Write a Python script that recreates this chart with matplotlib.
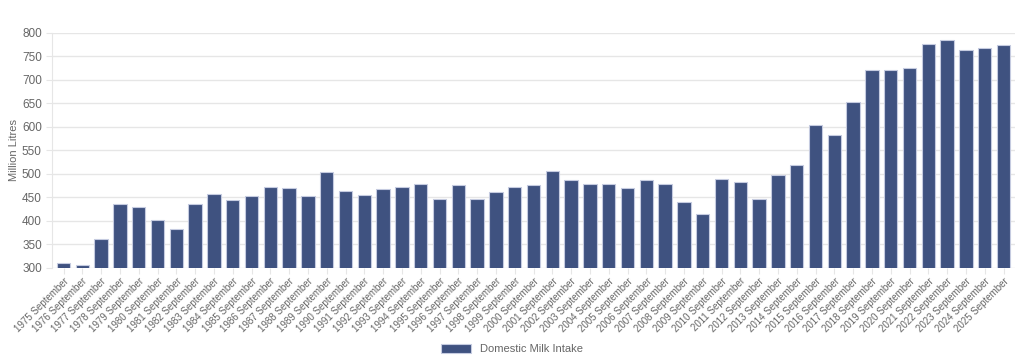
import numpy as np
import matplotlib.pyplot as plt

years = list(range(1975, 2026))
labels = ['%d September' % y for y in years]
intake = [310, 306, 361, 435, 430, 402, 383, 436, 456, 445,
          452, 472, 469, 453, 503, 464, 455, 468, 473, 478,
          446, 476, 447, 461, 472, 476, 506, 486, 478, 479,
          469, 487, 478, 439, 415, 490, 483, 446, 498, 518,
          603, 583, 653, 721, 721, 725, 776, 785, 763, 767,
          774]

plt.rcParams['font.family'] = ['Liberation Sans', 'DejaVu Sans']

fig = plt.figure(figsize=(10.24, 3.6), dpi=100)
ax = fig.add_axes([0.051, 0.256, 0.94, 0.653])

x = np.arange(len(years))
ax.bar(x, intake, width=0.72, color='#3f5280', edgecolor='#c5cbe0',
       linewidth=0.8, label='Domestic Milk Intake', zorder=3)

ax.set_ylim(300, 800)
ax.set_xlim(-0.6, len(years) - 0.4)
ax.set_yticks(range(300, 801, 50))
ax.yaxis.grid(True, color='#e6e6e6', linewidth=1, zorder=0)
ax.set_xticks(x)
ax.set_xticklabels(labels, rotation=45, ha='right', rotation_mode='anchor',
                   fontsize=7, color='#666666')
ax.tick_params(axis='y', labelsize=8.5, labelcolor='#666666', length=4,
               color='#e6e6e6')
ax.tick_params(axis='x', length=4, color='#e6e6e6', pad=2)
for s in ['top', 'right', 'bottom']:
    ax.spines[s].set_visible(False)
ax.spines['left'].set_color('#e6e6e6')
ax.set_ylabel('Million Litres', fontsize=8, color='#666666')
ax.yaxis.set_label_coords(-0.034, 0.5)

fig.legend(loc='lower center', bbox_to_anchor=(0.5, -0.012), frameon=False,
           fontsize=8, handlelength=2.7, handleheight=0.9,
           labelcolor='#666666')

fig.savefig('out.png', dpi=100)
